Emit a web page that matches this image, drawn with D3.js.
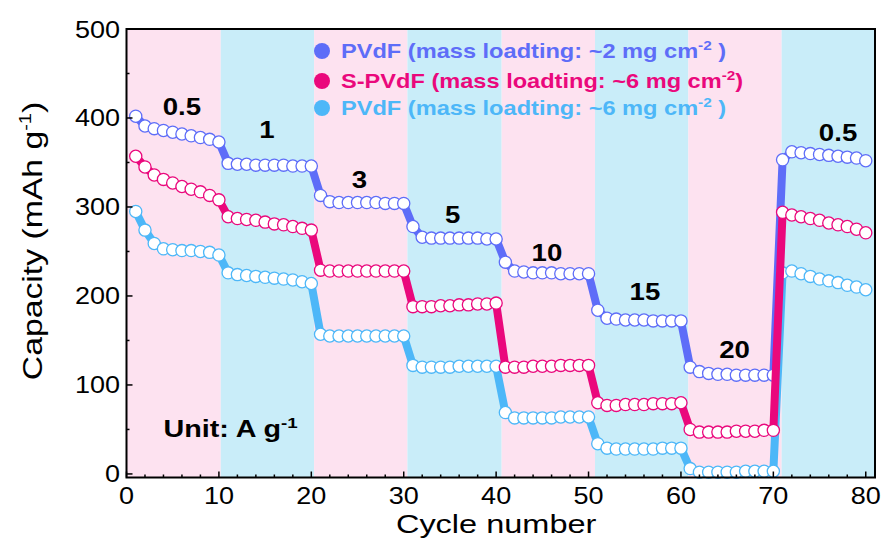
<!DOCTYPE html>
<html>
<head>
<meta charset="utf-8">
<script src="https://cdn.jsdelivr.net/npm/d3@7"></script>
<style>
  body { margin: 0; background: #fff; }
  svg { display: block; }
</style>
</head>
<body>
<svg id="chart" width="885" height="545"></svg>
<script>
// ---- data -------------------------------------------------------------
const cycles = d3.range(1, 81);

// PVdF, mass loading ~2 mg cm-2
const pvdf2 = [
  402, 391, 388, 386, 384, 382, 380, 378, 376, 373,
  349, 348, 348, 347, 347, 347, 347, 346, 346, 346,
  313, 306, 305, 305, 305, 305, 305, 304, 304, 304,
  278, 266, 265, 265, 265, 265, 265, 265, 264, 264,
  238, 228, 227, 226, 226, 226, 225, 225, 225, 225,
  184, 175, 174, 173, 173, 173, 172, 172, 172, 172,
  120, 115, 113, 112, 112, 111, 111, 111, 111, 111,
  353, 362, 361, 360, 359, 358, 357, 356, 355, 352
];

// S-PVdF, mass loading ~6 mg cm-2
const spvdf6 = [
  357, 345, 336, 331, 327, 323, 320, 317, 313, 308,
  289, 287, 286, 285, 283, 281, 280, 278, 276, 274,
  229, 228, 228, 228, 228, 228, 228, 228, 228, 228,
  188, 188, 188, 189, 189, 190, 190, 191, 191, 192,
  120, 120, 120, 121, 121, 121, 122, 122, 122, 122,
   80,  77,  77,  78,  78,  78,  79,  79,  79,  80,
   50,  47,  47,  47,  47,  48,  48,  48,  49,  49,
  294, 291, 289, 287, 285, 282, 280, 278, 275, 271
];

// PVdF, mass loading ~6 mg cm-2
const pvdf6 = [
  295, 274, 259, 253, 252, 251, 251, 250, 249, 246,
  226, 224, 223, 222, 221, 220, 219, 218, 216, 214,
  157, 155, 155, 155, 155, 155, 155, 155, 155, 155,
  122, 120, 120, 120, 120, 121, 121, 121, 121, 121,
   69,  63,  63,  63,  63,  63,  64,  64,  64,  64,
   34,  29,  28,  28,  28,  28,  28,  29,  29,  29,
    6,   2,   2,   2,   2,   2,   3,   3,   3,   3,
  226, 228, 225, 222, 219, 217, 215, 212, 210, 207
];

// current-density steps (A g-1) and the cycle ranges they cover
const rateLabels = ["0.5", "1", "3", "5", "10", "15", "20", "0.5"];
const rateLabelCycle = [6.0, 15.2, 25.2, 35.3, 45.5, 56.1, 65.8, 77.0];
const rateLabelCapacity = [412, 386, 330, 291, 248, 204, 139, 383];
const bandEdges = [0, 10.2, 20.3, 30.4, 40.6, 50.7, 60.8, 70.9, 81];

const xTicks = [0, 10, 20, 30, 40, 50, 60, 70, 80];
const xMinorTicks = d3.range(0, 81, 2);
const yTicks = [0, 100, 200, 300, 400, 500];
const yMinorTicks = d3.range(0, 501, 50);

const seriesNames = ["PVdF", "S-PVdF", "PVdF"];
const seriesLoading = ["~2", "~6", "~6"];
const seriesColors = ["#5E6DF8", "#EA087C", "#4DB7F8"];

// ---- layout -----------------------------------------------------------
const FONT = "'Liberation Sans', Arial, sans-serif";

const svg = d3.select("#chart");
const x = d3.scaleLinear().domain([0, 81]).range([126.5, 875]);
const y = d3.scaleLinear().domain([-4, 500]).range([477.5, 29]);

// alternating rate bands
const bandColors = ["#FDE2F0", "#C9EDF9"];
svg.append("g").selectAll("rect")
  .data(d3.pairs(bandEdges))
  .join("rect")
  .attr("x", d => x(d[0]))
  .attr("y", y(500))
  .attr("width", d => x(d[1]) - x(d[0]))
  .attr("height", y(-4) - y(500))
  .attr("fill", (d, i) => bandColors[i % 2]);

// series: thick connecting line, then open circles
const allSeries = [pvdf2, spvdf6, pvdf6];
const drawOrder = [0, 2, 1];
const line = d3.line().x((d, i) => x(cycles[i])).y(d => y(d));
const plot = svg.append("g");
drawOrder.forEach(k => {
  const vals = allSeries[k];
  const g = plot.append("g");
  g.append("path")
    .datum(vals)
    .attr("d", line)
    .attr("fill", "none")
    .attr("stroke", seriesColors[k])
    .attr("stroke-width", 8)
    .attr("stroke-linejoin", "round");
  g.selectAll("circle")
    .data(vals)
    .join("circle")
    .attr("cx", (d, i) => x(cycles[i]))
    .attr("cy", d => y(d))
    .attr("r", 6.1)
    .attr("fill", "#fff")
    .attr("stroke", seriesColors[k])
    .attr("stroke-width", 1.3);
});

// frame and inward ticks
const axes = svg.append("g").attr("stroke", "#000");
axes.append("rect")
  .attr("x", x(0)).attr("y", y(500))
  .attr("width", x(81) - x(0)).attr("height", y(-4) - y(500))
  .attr("fill", "none").attr("stroke-width", 2);
axes.selectAll(".xmin").data(xMinorTicks).join("line")
  .attr("x1", d => x(d)).attr("x2", d => x(d))
  .attr("y1", y(-4)).attr("y2", d => y(-4) - (d % 10 === 0 ? 6 : 3))
  .attr("stroke-width", 1.5);
axes.selectAll(".ymin").data(yMinorTicks).join("line")
  .attr("y1", d => y(d)).attr("y2", d => y(d))
  .attr("x1", x(0)).attr("x2", d => x(0) + (d % 100 === 0 ? 6 : 3))
  .attr("stroke-width", 1.5);

// horizontally stretched text helper
function label(parent, px, py, opts) {
  const g = parent.append("g").attr("transform", `translate(${px},${py})${opts.rotate ? " rotate(" + opts.rotate + ")" : ""}`);
  return g.append("text")
    .attr("transform", `scale(${opts.sx},1)`)
    .attr("font-family", FONT)
    .attr("font-size", opts.size)
    .attr("font-weight", opts.bold ? "bold" : "normal")
    .attr("fill", opts.color || "#000")
    .attr("text-anchor", opts.anchor || "middle");
}

// tick labels
xTicks.forEach(v => {
  label(svg, x(v), 504, { size: 23.5, sx: 1.15 }).text(v);
});
yTicks.forEach(v => {
  label(svg, 120, y(v) + 8.5, { size: 23.5, sx: 1.15, anchor: "end" }).text(v);
});

// axis titles
label(svg, x(40), 533, { size: 26, sx: 1.25 }).text("Cycle number");
{
  const t = label(svg, 42, 241, { size: 27, sx: 1.25, rotate: -90 });
  t.append("tspan").text("Capacity (mAh g");
  t.append("tspan").attr("font-size", 16).attr("dy", -11).text("-1");
  t.append("tspan").attr("dy", 11).text(")");
}

// rate annotations
rateLabels.forEach((s, i) => {
  label(svg, x(rateLabelCycle[i]), y(rateLabelCapacity[i]) + 8, { size: 23, sx: 1.2, bold: true }).text(s);
});
{
  const t = label(svg, x(4.0), y(42), { size: 23, sx: 1.25, bold: true, anchor: "start" });
  t.append("tspan").text("Unit: A g");
  t.append("tspan").attr("font-size", 15).attr("dy", -9).text("-1");
}

// legend
const legendRowY = [51, 81, 108];
seriesNames.forEach((name, i) => {
  svg.append("circle")
    .attr("cx", 322).attr("cy", legendRowY[i]).attr("r", 8)
    .attr("fill", seriesColors[i]);
  const t = label(svg, 341, legendRowY[i] + 7, { size: 20, sx: 1.18, bold: true, anchor: "start", color: seriesColors[i] });
  t.append("tspan").text(`${name} (mass loadting: ${seriesLoading[i]} mg cm`);
  t.append("tspan").attr("font-size", 13).attr("dy", -8).text("-2");
  t.append("tspan").attr("dy", 8).text(i === 1 ? ")" : " )");
});
</script>
</body>
</html>
